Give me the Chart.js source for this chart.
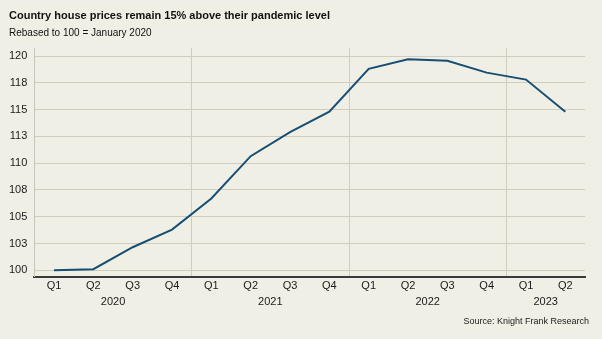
<!DOCTYPE html>
<html>
<head>
<meta charset="utf-8">
<script src="https://cdn.jsdelivr.net/npm/chart.js@4.4.1/dist/chart.umd.min.js"></script>
<style>
  html, body { margin: 0; padding: 0; background: #f0efe5; }
  #wrap { width: 602px; height: 339px; }
</style>
</head>
<body>
<div id="wrap"><canvas id="chart-country-prices" width="602" height="339"></canvas></div>
<script>
// Country house price index, quarterly, Jan 2020 = 100
const quarters = ['Q1', 'Q2', 'Q3', 'Q4', 'Q1', 'Q2', 'Q3', 'Q4', 'Q1', 'Q2', 'Q3', 'Q4', 'Q1', 'Q2'];
const quarterYears = ['2020', '2020', '2020', '2020', '2021', '2021', '2021', '2021',
                      '2022', '2022', '2022', '2022', '2023', '2023'];
const priceIndex = [100.0, 100.1, 102.15, 103.8, 106.7, 110.65, 112.9, 114.8,
                    118.8, 119.7, 119.55, 118.45, 117.8, 114.8];
const yTicks = [100, 102.5, 105, 107.5, 110, 112.5, 115, 117.5, 120];

const titleText = 'Country house prices remain 15% above their pandemic level';
const subtitleText = 'Rebased to 100 = January 2020';
const sourceText = 'Source: Knight Frank Research';

// year label sits in the middle of its quarters
const years = [...new Set(quarterYears)];
const yearMid = years.map(y => {
  const idx = quarterYears.map((q, i) => q === y ? i : -1).filter(i => i >= 0);
  return idx.reduce((a, b) => a + b, 0) / idx.length;
});

const FONT = '"Liberation Sans", Arial, sans-serif';

const bgPlugin = {
  id: 'bg',
  beforeDraw(chart) {
    const c = chart.ctx;
    c.save();
    c.fillStyle = '#f0efe5';
    c.fillRect(0, 0, chart.width, chart.height);
    c.restore();
  }
};

// heading, subheading and source note
const textPlugin = {
  id: 'texts',
  afterDraw(chart) {
    const c = chart.ctx;
    c.save();
    c.fillStyle = '#111';
    c.textBaseline = 'middle';
    c.textAlign = 'left';
    c.font = 'bold 11px ' + FONT;
    c.fillText(titleText, 9, 15.5);
    c.font = '10px ' + FONT;
    c.fillText(subtitleText, 9, 33.5);
    c.fillStyle = '#1a1a1a';
    c.textAlign = 'right';
    c.font = '9px ' + FONT;
    c.fillText(sourceText, chart.width - 13, chart.height - 17.5);
    c.restore();
  }
};

const ctx = document.getElementById('chart-country-prices').getContext('2d');
new Chart(ctx, {
  type: 'line',
  data: {
    labels: quarters,
    datasets: [{
      label: 'Country house prices',
      data: priceIndex,
      borderColor: '#174e73',
      borderWidth: 2,
      pointRadius: 0,
      tension: 0,
      fill: false
    }]
  },
  options: {
    responsive: false,
    animation: false,
    layout: { padding: { left: 2, right: 17, top: 48, bottom: 30 } },
    plugins: {
      legend: { display: false },
      tooltip: { enabled: false },
      title: { display: false },
      subtitle: { display: false }
    },
    scales: {
      x: {
        type: 'category',
        offset: true,
        grid: {
          offset: true,
          drawTicks: false,
          lineWidth: 1,
          color: c => (c.index > 0 && c.index < quarters.length && c.index % 4 === 0) ? '#cfcdc2' : 'rgba(0,0,0,0)'
        },
        border: { display: true, color: '#3a3a3a', width: 2 },
        ticks: {
          color: '#1a1a1a',
          padding: 3.5,
          maxRotation: 0,
          autoSkip: false,
          font: { family: FONT, size: 11, lineHeight: 1.1 }
        }
      },
      x2: {
        type: 'linear',
        position: 'bottom',
        min: -0.5,
        max: quarters.length - 0.5,
        grid: { display: false, drawTicks: false },
        border: { display: false },
        afterBuildTicks: scale => { scale.ticks = yearMid.map(v => ({ value: v })); },
        ticks: {
          color: '#1a1a1a',
          padding: 0,
          autoSkip: false,
          maxRotation: 0,
          font: { family: FONT, size: 11 },
          callback: v => years[yearMid.indexOf(v)]
        }
      },
      y: {
        min: 99.4,
        max: 120.75,
        afterBuildTicks: scale => { scale.ticks = yTicks.map(v => ({ value: v })); },
        grid: { color: '#cfcdc2', lineWidth: 1, drawTicks: false },
        border: { display: true, color: '#c8c6bc', width: 1 },
        ticks: {
          color: '#1a1a1a',
          padding: 7,
          font: { family: FONT, size: 11 },
          callback: v => Math.round(v)
        }
      }
    }
  },
  plugins: [bgPlugin, textPlugin]
});
</script>
</body>
</html>
